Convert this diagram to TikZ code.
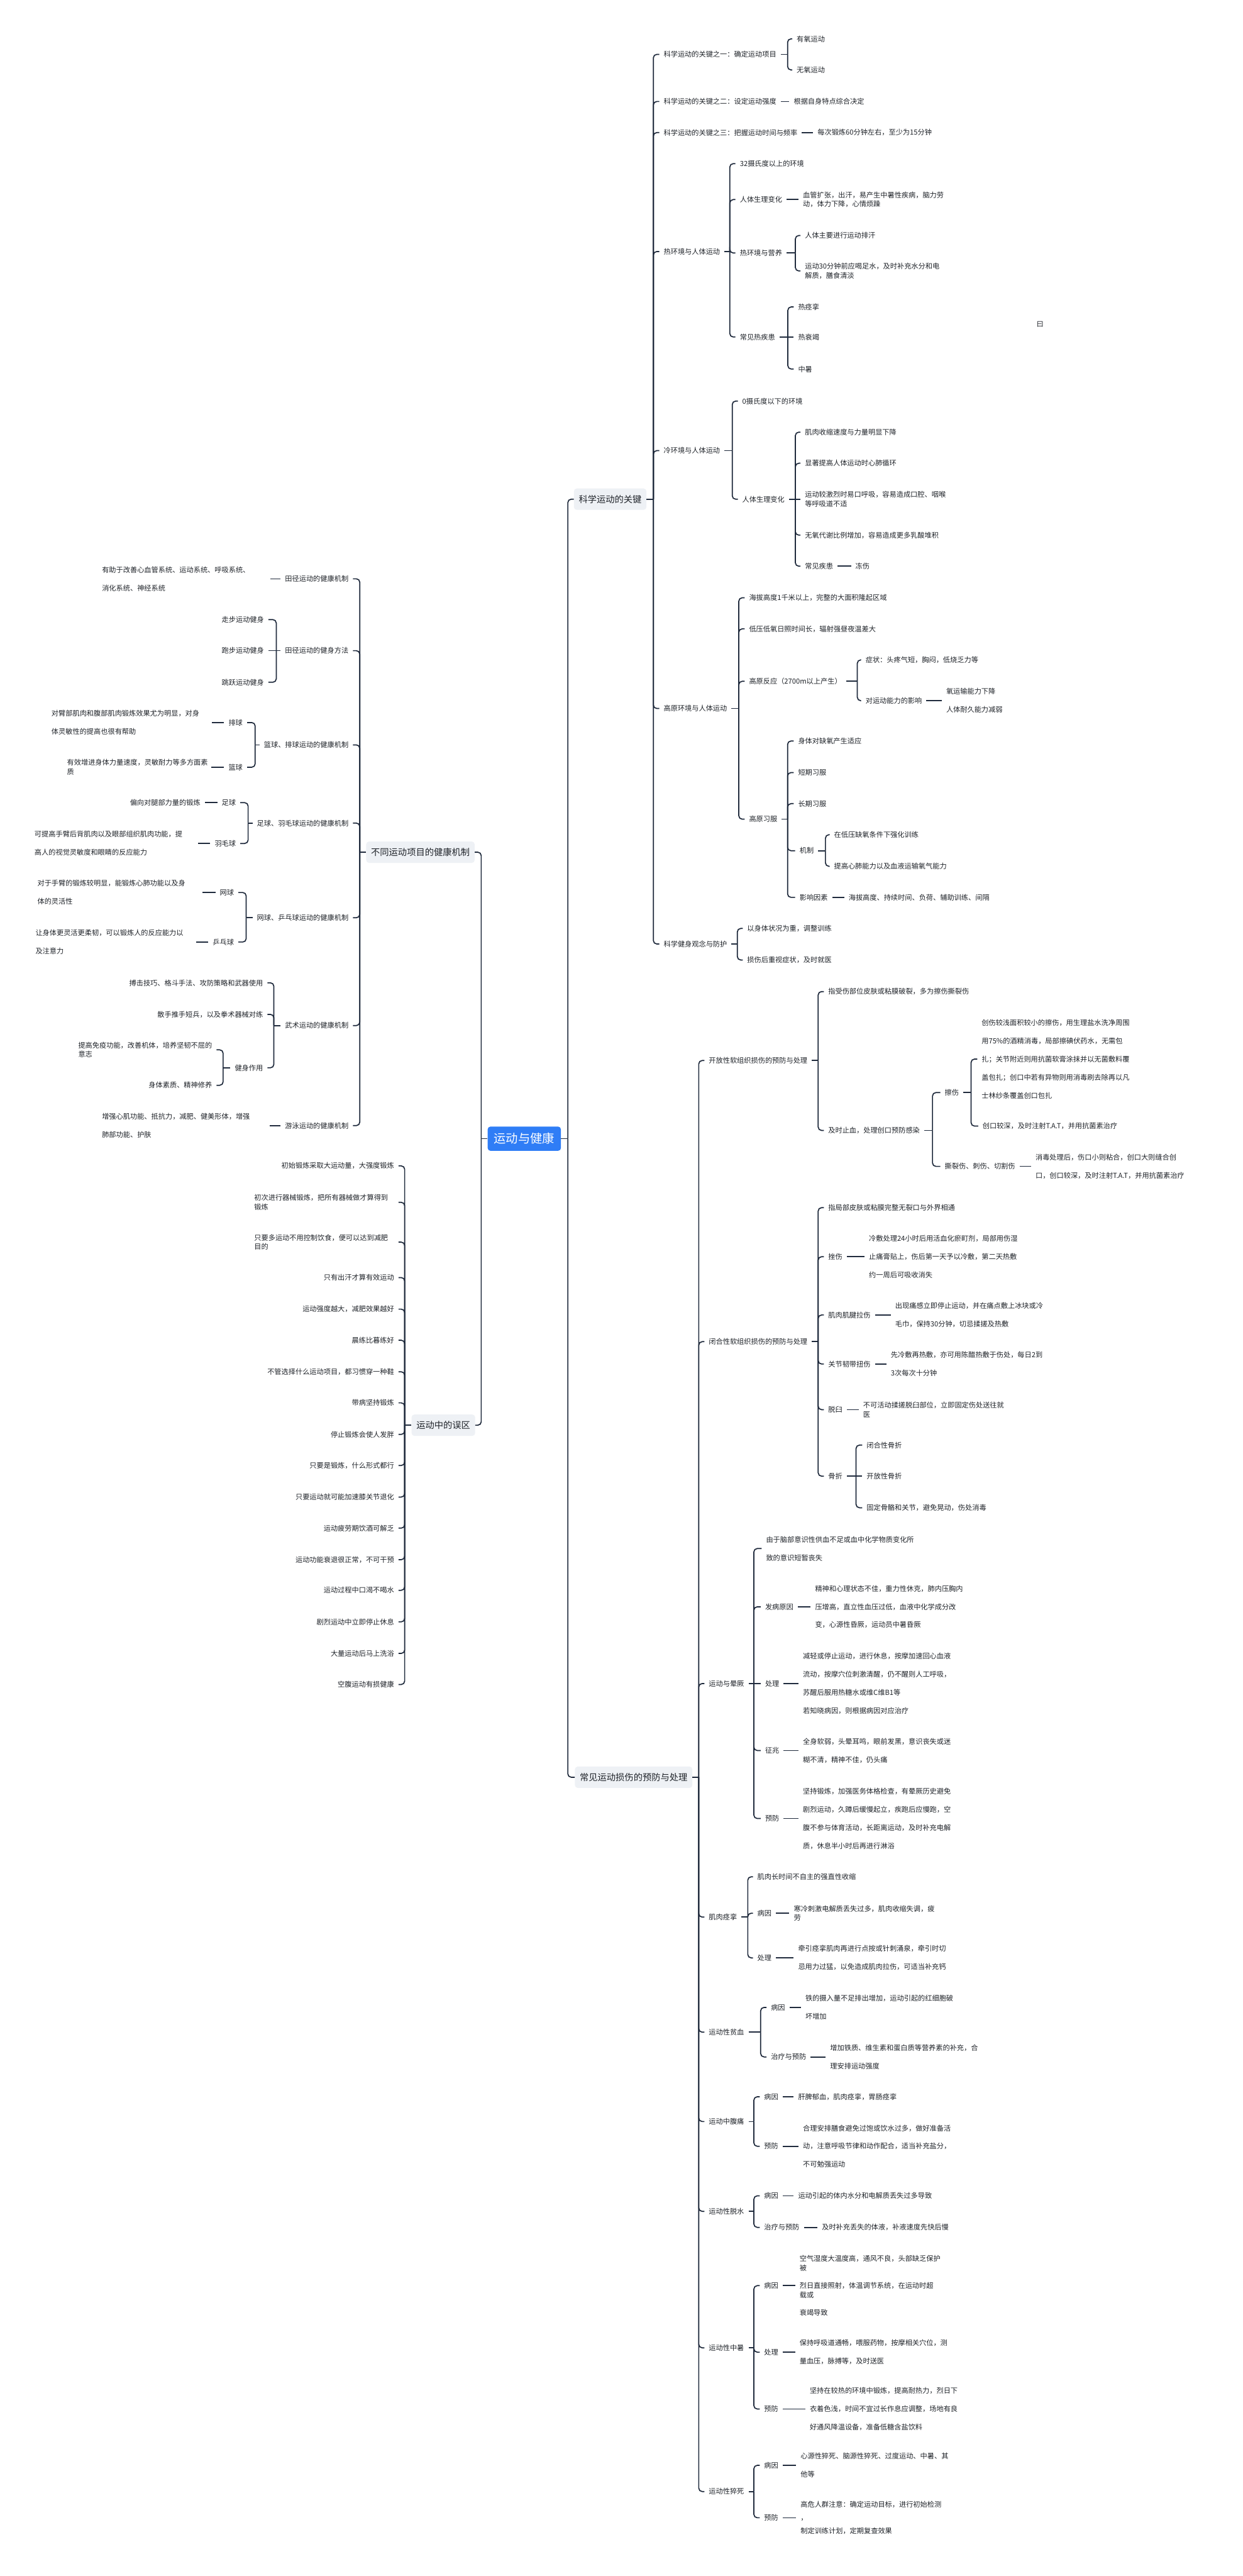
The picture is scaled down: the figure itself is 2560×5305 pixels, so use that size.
\documentclass[tikz,border=0pt]{standalone}
\usepackage{fontspec}
\setmainfont{Noto Sans CJK SC}
\usepackage{tikz}

\definecolor{ink}{HTML}{1F2329}
\definecolor{wire}{HTML}{1F2A3C}
\definecolor{topicbg}{HTML}{EEF1F5}
\definecolor{rootbg}{HTML}{2F7DF6}

\begin{document}
\begin{tikzpicture}[x=1pt, y=-1pt,
    txt/.style={anchor=west, inner xsep=0pt, inner ysep=2pt, text=ink, font=\fontsize{14.5}{19}\selectfont},
    ltxt/.style={txt, anchor=east},
    tight/.style={align=left},
    wide/.style={align=left, font=\fontsize{14.5}{37.5}\selectfont},
    topic/.style={rounded corners=6pt, fill=topicbg, text=ink, inner xsep=10pt, minimum height=44pt, font=\fontsize{18.5}{22}\selectfont},
    rootbox/.style={rounded corners=6pt, fill=rootbg, text=white, inner xsep=13pt, minimum height=50pt, font=\fontsize{25}{30}\selectfont},
    link/.style={draw=wire, line width=2.2pt, shorten <=9pt, shorten >=9pt},
    stub/.style={draw=wire, line width=2.2pt, shorten <=9pt},
    bstub/.style={draw=wire, line width=2.2pt},
    fork/.style={draw=wire, line width=2.2pt, rounded corners=7pt, shorten >=9pt}]

  \fill[white] (0,0) rectangle (2560,5305);
  \useasboundingbox (0,0) rectangle (2560,5305);

  \node[rootbox] (root) at (1080,2345) {运动与健康};
  \node[topic, anchor=west] (kx) at (1182,1028) {科学运动的关键};
  \node[topic, anchor=west] (sh) at (1184,3660) {常见运动损伤的预防与处理};
  \node[topic, anchor=east] (xm) at (978,1755) {不同运动项目的健康机制};
  \node[topic, anchor=east] (wq) at (979,2935) {运动中的误区};

  \node[txt] (kx1) at (1367,112) {科学运动的关键之一：确定运动项目};
  \node[txt] (kx11) at (1641,80) {有氧运动};
  \node[txt] (kx12) at (1641,144) {无氧运动};
  \node[txt] (kx2) at (1367,209) {科学运动的关键之二：设定运动强度};
  \node[txt] (kx21) at (1635,209) {根据自身特点综合决定};
  \node[txt] (kx3) at (1367,273) {科学运动的关键之三：把握运动时间与频率};
  \node[txt] (kx31) at (1684,273) {每次锻炼60分钟左右，至少为15分钟};

  \node[txt] (kx4) at (1367,518) {热环境与人体运动};
  \node[txt] (r1) at (1524,337) {32摄氏度以上的环境};
  \node[txt] (r2) at (1524,411) {人体生理变化};
  \node[txt, tight] (r21) at (1654,411) {血管扩张，出汗，易产生中暑性疾病，脑力劳\\动，体力下降，心情烦躁};
  \node[txt] (r3) at (1524,521) {热环境与营养};
  \node[txt] (r31) at (1658,485) {人体主要进行运动排汗};
  \node[txt, tight] (r32) at (1658,558) {运动30分钟前应喝足水，及时补充水分和电\\解质，膳食清淡};
  \node[txt] (r4) at (1524,694) {常见热疾患};
  \node[txt] (r41) at (1644,632) {热痉挛};
  \node[txt] (r42) at (1644,694) {热衰竭};
  \node[txt] (r43) at (1644,760) {中暑};
  \node[txt] (mark) at (2135,668) {曰};

  \node[txt] (kx5) at (1367,928) {冷环境与人体运动};
  \node[txt] (c1) at (1529,826) {0摄氏度以下的环境};
  \node[txt] (c2) at (1529,1028) {人体生理变化};
  \node[txt] (c21) at (1658,890) {肌肉收缩速度与力量明显下降};
  \node[txt] (c22) at (1658,954) {显著提高人体运动时心肺循环};
  \node[txt, tight] (c23) at (1658,1028) {运动较激烈时易口呼吸，容易造成口腔、咽喉\\等呼吸道不适};
  \node[txt] (c24) at (1658,1102) {无氧代谢比例增加，容易造成更多乳酸堆积};
  \node[txt] (c25) at (1658,1166) {常见疾患};
  \node[txt] (c251) at (1762,1166) {冻伤};

  \node[txt] (kx6) at (1367,1459) {高原环境与人体运动};
  \node[txt] (g1) at (1543,1231) {海拔高度1千米以上，完整的大面积隆起区域};
  \node[txt] (g2) at (1543,1295) {低压低氧日照时间长，辐射强昼夜温差大};
  \node[txt] (g3) at (1543,1403) {高原反应（2700m以上产生）};
  \node[txt] (g31) at (1783,1359) {症状：头疼气短，胸闷，低烧乏力等};
  \node[txt] (g32) at (1783,1443) {对运动能力的影响};
  \node[txt, wide] (g321) at (1949,1443) {氧运输能力下降\\人体耐久能力减弱};
  \node[txt] (g4) at (1543,1687) {高原习服};
  \node[txt] (g41) at (1644,1526) {身体对缺氧产生适应};
  \node[txt] (g42) at (1644,1591) {短期习服};
  \node[txt] (g43) at (1644,1655) {长期习服};
  \node[txt] (g44) at (1647,1752) {机制};
  \node[txt] (g441) at (1718,1719) {在低压缺氧条件下强化训练};
  \node[txt] (g442) at (1718,1784) {提高心肺能力以及血液运输氧气能力};
  \node[txt] (g45) at (1647,1848) {影响因素};
  \node[txt] (g451) at (1748,1848) {海拔高度、持续时间、负荷、辅助训练、间隔};

  \node[txt] (kx7) at (1367,1944) {科学健身观念与防护};
  \node[txt] (p1) at (1539,1912) {以身体状况为重，调整训练};
  \node[txt] (p2) at (1539,1977) {损伤后重视症状，及时就医};

  \node[txt] (sA) at (1460,2184) {开放性软组织损伤的预防与处理};
  \node[txt] (sA1) at (1706,2042) {指受伤部位皮肤或粘膜破裂，多为擦伤撕裂伤};
  \node[txt] (sA2) at (1706,2328) {及时止血，处理创口预防感染};
  \node[txt] (sA21) at (1946,2250) {擦伤};
  \node[txt, wide] (sA211) at (2022,2181) {创伤较浅面积较小的擦伤，用生理盐水洗净周围\\用75\%的酒精消毒，局部擦碘伏药水，无需包\\扎；关节附近则用抗菌软膏涂抹并以无菌敷料覆\\盖包扎；创口中若有异物则用消毒刷去除再以凡\\士林纱条覆盖创口包扎};
  \node[txt] (sA212) at (2024,2319) {创口较深，及时注射T.A.T，并用抗菌素治疗};
  \node[txt] (sA22) at (1946,2402) {撕裂伤、刺伤、切割伤};
  \node[txt, wide] (sA221) at (2133,2402) {消毒处理后，伤口小则粘合，创口大则缝合创\\口，创口较深，及时注射T.A.T，并用抗菌素治疗};

  \node[txt] (sB) at (1460,2763) {闭合性软组织损伤的预防与处理};
  \node[txt] (sB1) at (1706,2487) {指局部皮肤或粘膜完整无裂口与外界相通};
  \node[txt] (sB2) at (1706,2588) {挫伤};
  \node[txt, wide] (sB21) at (1790,2588) {冷敷处理24小时后用活血化瘀町剂，局部用伤湿\\止痛膏贴上，伤后第一天予以冷敷，第二天热敷\\约一周后可吸收消失};
  \node[txt] (sB3) at (1706,2708) {肌肉肌腱拉伤};
  \node[txt, wide] (sB31) at (1844,2708) {出现痛感立即停止运动，并在痛点敷上冰块或冷\\毛巾，保持30分钟，切忌揉搓及热敷};
  \node[txt] (sB4) at (1706,2809) {关节韧带扭伤};
  \node[txt, wide] (sB41) at (1835,2809) {先冷敷再热敷，亦可用陈醋热敷于伤处，每日2到\\3次每次十分钟};
  \node[txt] (sB5) at (1706,2903) {脱臼};
  \node[txt, tight] (sB51) at (1778,2903) {不可活动揉搓脱臼部位，立即固定伤处送往就\\医};
  \node[txt] (sB6) at (1706,3040) {骨折};
  \node[txt] (sB61) at (1785,2976) {闭合性骨折};
  \node[txt] (sB62) at (1785,3040) {开放性骨折};
  \node[txt] (sB63) at (1785,3105) {固定骨骼和关节，避免晃动，伤处消毒};

  \node[txt] (sC) at (1460,3467) {运动与晕厥};
  \node[txt, wide] (sC1) at (1578,3189) {由于脑部意识性供血不足或血中化学物质变化所\\致的意识短暂丧失};
  \node[txt] (sC2) at (1576,3309) {发病原因};
  \node[txt, wide] (sC21) at (1679,3309) {精神和心理状态不佳，重力性休克，肺内压胸内\\压增高，直立性血压过低，血液中化学成分改\\变，心源性昏厥，运动员中暑昏厥};
  \node[txt] (sC3) at (1576,3467) {处理};
  \node[txt, wide] (sC31) at (1654,3467) {减轻或停止运动，进行休息，按摩加速回心血液\\流动，按摩穴位刺激清醒，仍不醒则人工呼吸，\\苏醒后服用热糖水或维C维B1等\\若知晓病因，则根据病因对应治疗};
  \node[txt] (sC4) at (1576,3605) {征兆};
  \node[txt, wide] (sC41) at (1654,3605) {全身软弱，头晕耳鸣，眼前发黑，意识丧失或迷\\糊不清，精神不佳，仍头痛};
  \node[txt] (sC5) at (1576,3745) {预防};
  \node[txt, wide] (sC51) at (1654,3745) {坚持锻炼，加强医务体格检查，有晕厥历史避免\\剧烈运动，久蹲后缓慢起立，疾跑后应慢跑，空\\腹不参与体育活动，长距离运动，及时补充电解\\质，休息半小时后再进行淋浴};

  \node[txt] (sD) at (1460,3948) {肌肉痉挛};
  \node[txt] (sD1) at (1560,3865) {肌肉长时间不自主的强直性收缩};
  \node[txt] (sD2) at (1560,3940) {病因};
  \node[txt, tight] (sD21) at (1635,3940) {寒冷刺激电解质丢失过多，肌肉收缩失调，疲\\劳};
  \node[txt] (sD3) at (1560,4032) {处理};
  \node[txt, wide] (sD31) at (1644,4032) {牵引痉挛肌肉再进行点按或针刺涌泉，牵引时切\\忌用力过猛，以免造成肌肉拉伤，可适当补充钙};

  \node[txt] (sE) at (1460,4185) {运动性贫血};
  \node[txt] (sE1) at (1588,4134) {病因};
  \node[txt, wide] (sE11) at (1659,4134) {铁的摄入量不足排出增加，运动引起的红细胞破\\坏增加};
  \node[txt] (sE2) at (1588,4236) {治疗与预防};
  \node[txt, wide] (sE21) at (1710,4236) {增加铁质、维生素和蛋白质等营养素的补充，合\\理安排运动强度};

  \node[txt] (sF) at (1460,4369) {运动中腹痛};
  \node[txt] (sF1) at (1574,4318) {病因};
  \node[txt] (sF11) at (1644,4318) {肝脾郁血，肌肉痉挛，胃肠痉挛};
  \node[txt] (sF2) at (1574,4420) {预防};
  \node[txt, wide] (sF21) at (1654,4420) {合理安排膳食避免过饱或饮水过多，做好准备活\\动，注意呼吸节律和动作配合，适当补充盐分，\\不可勉强运动};

  \node[txt] (sG) at (1460,4554) {运动性脱水};
  \node[txt] (sG1) at (1574,4522) {病因};
  \node[txt] (sG11) at (1644,4522) {运动引起的体内水分和电解质丢失过多导致};
  \node[txt] (sG2) at (1574,4587) {治疗与预防};
  \node[txt] (sG21) at (1693,4587) {及时补充丢失的体液，补液速度先快后慢};

  \node[txt] (sH) at (1460,4835) {运动性中暑};
  \node[txt] (sH1) at (1574,4707) {病因};
  \node[txt, tight] (sH11) at (1647,4707) {空气湿度大温度高，通风不良，头部缺乏保护\\被\\[18pt]烈日直接照射，体温调节系统，在运动时超\\载或\\[18pt]衰竭导致};
  \node[txt] (sH2) at (1574,4844) {处理};
  \node[txt, wide] (sH21) at (1647,4844) {保持呼吸道通畅，喂服药物，按摩相关穴位，测\\量血压，脉搏等，及时送医};
  \node[txt] (sH3) at (1574,4961) {预防};
  \node[txt, wide] (sH31) at (1668,4961) {坚持在较热的环境中锻炼，提高耐热力，烈日下\\衣着色浅，时间不宜过长作息应调整，场地有良\\好通风降温设备，准备低糖含盐饮料};

  \node[txt] (sI) at (1460,5131) {运动性猝死};
  \node[txt] (sI1) at (1574,5077) {病因};
  \node[txt, wide] (sI11) at (1649,5077) {心源性猝死、脑源性猝死、过度运动、中暑、其\\他等};
  \node[txt] (sI2) at (1574,5185) {预防};
  \node[txt, align=left, font=\fontsize{14.5}{27}\selectfont] (sI21) at (1649,5185) {高危人群注意：确定运动目标，进行初始检测\\，\\制定训练计划，定期复查效果};

  \node[ltxt] (d1) at (718,1192) {田径运动的健康机制};
  \node[txt, wide, text width=337pt] (d11) at (210,1192) {有助于改善心血管系统、运动系统、呼吸系统、\\消化系统、神经系统};
  \node[ltxt] (d2) at (718,1340) {田径运动的健身方法};
  \node[ltxt] (d21) at (544,1276) {走步运动健身};
  \node[ltxt] (d22) at (544,1340) {跑步运动健身};
  \node[ltxt] (d23) at (544,1405) {跳跃运动健身};
  \node[ltxt] (d3) at (718,1534) {篮球、排球运动的健康机制};
  \node[ltxt] (d31) at (500,1488) {排球};
  \node[txt, wide, text width=321pt] (d311) at (106,1488) {对臂部肌肉和腹部肌肉锻炼效果尤为明显，对身\\体灵敏性的提高也很有帮助};
  \node[ltxt] (d32) at (500,1580) {篮球};
  \node[txt, tight, text width=288pt] (d321) at (138,1580) {有效增进身体力量速度，灵敏耐力等多方面素\\质};
  \node[ltxt] (d4) at (718,1695) {足球、羽毛球运动的健康机制};
  \node[ltxt] (d41) at (486,1653) {足球};
  \node[ltxt] (d411) at (413,1653) {偏向对腿部力量的锻炼};
  \node[ltxt] (d42) at (486,1737) {羽毛球};
  \node[txt, wide, text width=328pt] (d421) at (71,1737) {可提高手臂后背肌肉以及眼部组织肌肉功能，提\\高人的视觉灵敏度和眼睛的反应能力};
  \node[ltxt] (d5) at (718,1890) {网球、乒乓球运动的健康机制};
  \node[ltxt] (d51) at (482,1838) {网球};
  \node[txt, wide, text width=331pt] (d511) at (77,1838) {对于手臂的锻炼较明显，能锻炼心肺功能以及身\\体的灵活性};
  \node[ltxt] (d52) at (482,1940) {乒乓球};
  \node[txt, wide, text width=322pt] (d521) at (73,1940) {让身体更灵活更柔韧，可以锻炼人的反应能力以\\及注意力};
  \node[ltxt] (d6) at (718,2112) {武术运动的健康机制};
  \node[ltxt] (d61) at (542,2024) {搏击技巧、格斗手法、攻防策略和武器使用};
  \node[ltxt] (d62) at (542,2089) {散手推手短兵，以及拳术器械对练};
  \node[ltxt] (d63) at (542,2199) {健身作用};
  \node[ltxt, tight] (d631) at (437,2162) {提高免疫功能，改善机体，培养坚韧不屈的\\意志};
  \node[ltxt] (d632) at (437,2235) {身体素质、精神修养};
  \node[ltxt] (d7) at (718,2318) {游泳运动的健康机制};
  \node[txt, wide, text width=336pt] (d71) at (210,2318) {增强心肌功能、抵抗力，减肥、健美形体，增强\\肺部功能、护肤};

  \node[ltxt] (w1) at (812,2401) {初始锻炼采取大运动量，大强度锻炼};
  \node[ltxt, tight, text width=288pt] (w2) at (812,2476) {初次进行器械锻炼，把所有器械做才算得到\\锻炼};
  \node[ltxt, tight, text width=288pt] (w3) at (812,2558) {只要多运动不用控制饮食，便可以达到减肥\\目的};
  \node[ltxt] (w4) at (812,2631) {只有出汗才算有效运动};
  \node[ltxt] (w5) at (812,2696) {运动强度越大，减肥效果越好};
  \node[ltxt] (w6) at (812,2760) {晨练比暮练好};
  \node[ltxt] (w7) at (812,2825) {不管选择什么运动项目，都习惯穿一种鞋};
  \node[ltxt] (w8) at (812,2889) {带病坚持锻炼};
  \node[ltxt] (w9) at (812,2954) {停止锻炼会使人发胖};
  \node[ltxt] (w10) at (812,3018) {只要是锻炼，什么形式都行};
  \node[ltxt] (w11) at (812,3083) {只要运动就可能加速膝关节退化};
  \node[ltxt] (w12) at (812,3147) {运动疲劳期饮酒可解乏};
  \node[ltxt] (w13) at (812,3212) {运动功能衰退很正常，不可干预};
  \node[ltxt] (w14) at (812,3275) {运动过程中口渴不喝水};
  \node[ltxt] (w15) at (812,3340) {剧烈运动中立即停止休息};
  \node[ltxt] (w16) at (812,3405) {大量运动后马上洗浴};
  \node[ltxt] (w17) at (812,3469) {空腹运动有损健康};

  \draw[bstub] (root.east) -- ++(14pt,0) coordinate (root-r);
  \draw[bstub] (root.west) -- ++(-13pt,0) coordinate (root-l);
  \foreach \c in {kx,sh} \draw[fork, shorten >=0pt] (root-r) |- (\c.west);
  \foreach \c in {xm,wq} \draw[fork, shorten >=0pt] (root-l) |- (\c.east);

  \draw[bstub] (kx.east) -- ++(14pt,0) coordinate (kx-t);
  \foreach \c in {kx1,kx2,kx3,kx4,kx5,kx6,kx7} \draw[fork] (kx-t) |- (\c.west);
  \draw[stub] (kx1.east) -- ++(23pt,0) coordinate (kx1-t);
  \foreach \c in {kx11,kx12} \draw[fork] (kx1-t) |- (\c.west);
  \draw[link] (kx2.east) -- (kx21.west);
  \draw[link] (kx3.east) -- (kx31.west);

  \draw[stub] (kx4.east) -- ++(20pt,0) coordinate (kx4-t);
  \foreach \c in {r1,r2,r3,r4} \draw[fork] (kx4-t) |- (\c.west);
  \draw[link] (r2.east) -- (r21.west);
  \draw[stub] (r3.east) -- ++(27pt,0) coordinate (r3-t);
  \foreach \c in {r31,r32} \draw[fork] (r3-t) |- (\c.west);
  \draw[stub] (r4.east) -- ++(26pt,0) coordinate (r4-t);
  \foreach \c in {r41,r43} \draw[fork] (r4-t) |- (\c.west);
  \draw[link, shorten <=0pt] (r4-t) -- (r42.west);

  \draw[stub] (kx5.east) -- ++(25pt,0) coordinate (kx5-t);
  \foreach \c in {c1,c2} \draw[fork] (kx5-t) |- (\c.west);
  \draw[stub] (c2.east) -- ++(22pt,0) coordinate (c2-t);
  \foreach \c in {c21,c22,c24,c25} \draw[fork] (c2-t) |- (\c.west);
  \draw[link, shorten <=0pt] (c2-t) -- (c23.west);
  \draw[link] (c25.east) -- (c251.west);

  \draw[stub] (kx6.east) -- ++(24pt,0) coordinate (kx6-t);
  \foreach \c in {g1,g2,g3,g4} \draw[fork] (kx6-t) |- (\c.west);
  \draw[stub] (g3.east) -- ++(32pt,0) coordinate (g3-t);
  \foreach \c in {g31,g32} \draw[fork] (g3-t) |- (\c.west);
  \draw[link] (g32.east) -- (g321.west);
  \draw[stub] (g4.east) -- ++(21pt,0) coordinate (g4-t);
  \foreach \c in {g41,g42,g43,g44,g45} \draw[fork] (g4-t) |- (\c.west);
  \draw[stub] (g44.east) -- ++(24pt,0) coordinate (g44-t);
  \foreach \c in {g441,g442} \draw[fork] (g44-t) |- (\c.west);
  \draw[link] (g45.east) -- (g451.west);

  \draw[stub] (kx7.east) -- ++(21pt,0) coordinate (kx7-t);
  \foreach \c in {p1,p2} \draw[fork] (kx7-t) |- (\c.west);

  \draw[bstub] (sh.east) -- ++(13pt,0) coordinate (sh-t);
  \foreach \c in {sA,sB,sC,sD,sE,sF,sG,sH,sI} \draw[fork] (sh-t) |- (\c.west);

  \draw[stub] (sA.east) -- ++(22pt,0) coordinate (sA-t);
  \foreach \c in {sA1,sA2} \draw[fork] (sA-t) |- (\c.west);
  \draw[stub] (sA2.east) -- ++(26pt,0) coordinate (sA2-t);
  \foreach \c in {sA21,sA22} \draw[fork] (sA2-t) |- (\c.west);
  \draw[stub] (sA21.east) -- ++(25pt,0) coordinate (sA21-t);
  \foreach \c in {sA211,sA212} \draw[fork] (sA21-t) |- (\c.west);
  \draw[link] (sA22.east) -- (sA221.west);

  \draw[stub] (sB.east) -- ++(22pt,0) coordinate (sB-t);
  \foreach \c in {sB1,sB2,sB3,sB4,sB5,sB6} \draw[fork] (sB-t) |- (\c.west);
  \draw[link] (sB2.east) -- (sB21.west);
  \draw[link] (sB3.east) -- (sB31.west);
  \draw[link] (sB4.east) -- (sB41.west);
  \draw[link] (sB5.east) -- (sB51.west);
  \draw[stub] (sB6.east) -- ++(28pt,0) coordinate (sB6-t);
  \foreach \c in {sB61,sB63} \draw[fork] (sB6-t) |- (\c.west);
  \draw[link, shorten <=0pt] (sB6-t) -- (sB62.west);

  \draw[stub] (sC.east) -- ++(20pt,0) coordinate (sC-t);
  \foreach \c in {sC1,sC2,sC4,sC5} \draw[fork] (sC-t) |- (\c.west);
  \draw[link, shorten <=0pt] (sC-t) -- (sC3.west);
  \draw[link] (sC2.east) -- (sC21.west);
  \draw[link] (sC3.east) -- (sC31.west);
  \draw[link] (sC4.east) -- (sC41.west);
  \draw[link] (sC5.east) -- (sC51.west);

  \draw[stub] (sD.east) -- ++(22pt,0) coordinate (sD-t);
  \foreach \c in {sD1,sD2,sD3} \draw[fork] (sD-t) |- (\c.west);
  \draw[link] (sD2.east) -- (sD21.west);
  \draw[link] (sD3.east) -- (sD31.west);

  \draw[stub] (sE.east) -- ++(34pt,0) coordinate (sE-t);
  \foreach \c in {sE1,sE2} \draw[fork] (sE-t) |- (\c.west);
  \draw[link] (sE1.east) -- (sE11.west);
  \draw[link] (sE2.east) -- (sE21.west);

  \draw[stub] (sF.east) -- ++(20pt,0) coordinate (sF-t);
  \foreach \c in {sF1,sF2} \draw[fork] (sF-t) |- (\c.west);
  \draw[link] (sF1.east) -- (sF11.west);
  \draw[link] (sF2.east) -- (sF21.west);

  \draw[stub] (sG.east) -- ++(20pt,0) coordinate (sG-t);
  \foreach \c in {sG1,sG2} \draw[fork] (sG-t) |- (\c.west);
  \draw[link] (sG1.east) -- (sG11.west);
  \draw[link] (sG2.east) -- (sG21.west);

  \draw[stub] (sH.east) -- ++(20pt,0) coordinate (sH-t);
  \foreach \c in {sH1,sH2,sH3} \draw[fork] (sH-t) |- (\c.west);
  \draw[link] (sH1.east) -- (sH11.west);
  \draw[link] (sH2.east) -- (sH21.west);
  \draw[link] (sH3.east) -- (sH31.west);

  \draw[stub] (sI.east) -- ++(20pt,0) coordinate (sI-t);
  \foreach \c in {sI1,sI2} \draw[fork] (sI-t) |- (\c.west);
  \draw[link] (sI1.east) -- (sI11.west);
  \draw[link] (sI2.east) -- (sI21.west);

  \draw[bstub] (xm.west) -- ++(-13pt,0) coordinate (xm-t);
  \foreach \c in {d1,d2,d3,d4,d5,d6,d7} \draw[fork] (xm-t) |- (\c.east);
  \draw[link] (d1.west) -- (d11.east);
  \draw[stub] (d2.west) -- ++(-18pt,0) coordinate (d2-t);
  \foreach \c in {d21,d23} \draw[fork] (d2-t) |- (\c.east);
  \draw[link, shorten <=0pt] (d2-t) -- (d22.east);
  \draw[stub] (d3.west) -- ++(-18pt,0) coordinate (d3-t);
  \foreach \c in {d31,d32} \draw[fork] (d3-t) |- (\c.east);
  \draw[link] (d31.west) -- (d311.east);
  \draw[link] (d32.west) -- (d321.east);
  \draw[stub] (d4.west) -- ++(-18pt,0) coordinate (d4-t);
  \foreach \c in {d41,d42} \draw[fork] (d4-t) |- (\c.east);
  \draw[link] (d41.west) -- (d411.east);
  \draw[link] (d42.west) -- (d421.east);
  \draw[stub] (d5.west) -- ++(-22pt,0) coordinate (d5-t);
  \foreach \c in {d51,d52} \draw[fork] (d5-t) |- (\c.east);
  \draw[link] (d51.west) -- (d511.east);
  \draw[link] (d52.west) -- (d521.east);
  \draw[stub] (d6.west) -- ++(-23pt,0) coordinate (d6-t);
  \foreach \c in {d61,d62,d63} \draw[fork] (d6-t) |- (\c.east);
  \draw[stub] (d63.west) -- ++(-24pt,0) coordinate (d63-t);
  \foreach \c in {d631,d632} \draw[fork] (d63-t) |- (\c.east);
  \draw[link] (d7.west) -- (d71.east);

  \draw[bstub] (wq.west) -- ++(-14pt,0) coordinate (wq-t);
  \foreach \c in {w1,w2,w3,w4,w5,w6,w7,w8,w9,w10,w11,w12,w13,w14,w15,w16,w17} \draw[fork] (wq-t) |- (\c.east);
\end{tikzpicture}
\end{document}
